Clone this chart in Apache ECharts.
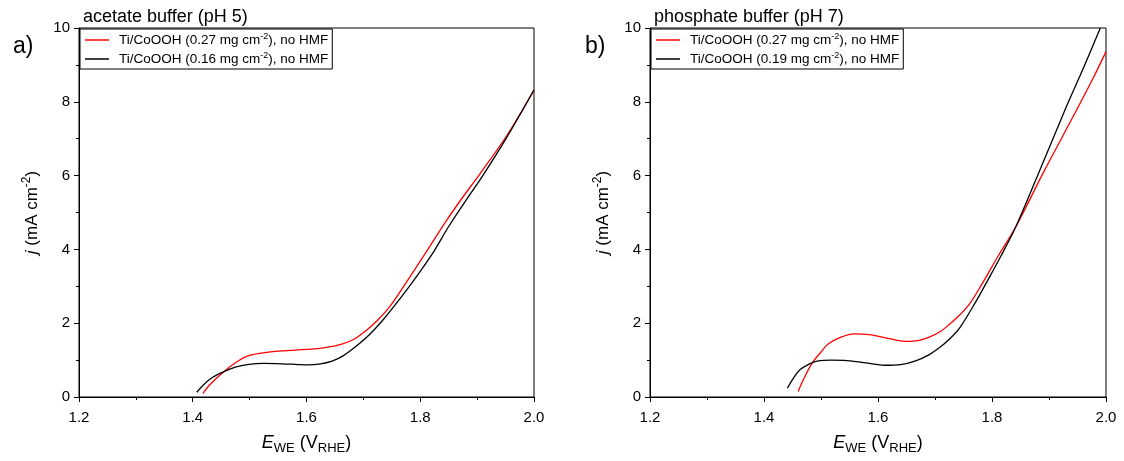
<!DOCTYPE html>
<html>
<head>
<meta charset="utf-8">
<script src="https://cdn.jsdelivr.net/npm/echarts@6/dist/echarts.min.js"></script>
<style>html,body{margin:0;padding:0;background:#fff}#c{width:1124px;height:461px}</style>
</head>
<body>
<div id="c"></div>
<script>
// ---- data ----
const xTicks = [1.2, 1.4, 1.6, 1.8, 2.0];
const yTicks = [0, 2, 4, 6, 8, 10];

const panelTitles = ['acetate buffer (pH 5)', 'phosphate buffer (pH 7)'];
const panelLetters = ['a)', 'b)'];

const nameRed = 'Ti/CoOOH (0.27 mg cm-2), no HMF';
const nameBlackA = 'Ti/CoOOH (0.16 mg cm-2), no HMF';
const nameBlackB = 'Ti/CoOOH (0.19 mg cm-2), no HMF';

// panel a, red
const aRedE = [1.418, 1.43, 1.455, 1.475, 1.496, 1.52, 1.556, 1.6, 1.63, 1.662, 1.685, 1.704, 1.725, 1.746, 1.779, 1.81, 1.846, 1.875, 1.905, 1.952, 2.0];
const aRedJ = [0.10, 0.33, 0.69, 0.93, 1.11, 1.19, 1.25, 1.29, 1.33, 1.43, 1.58, 1.79, 2.08, 2.44, 3.19, 3.92, 4.78, 5.42, 6.05, 7.08, 8.32];
// panel a, black
const aBlkE = [1.407, 1.43, 1.455, 1.475, 1.496, 1.525, 1.556, 1.585, 1.603, 1.625, 1.645, 1.665, 1.686, 1.71, 1.734, 1.76, 1.788, 1.82, 1.85, 1.88, 1.91, 1.95, 2.0];
const aBlkJ = [0.13, 0.48, 0.69, 0.81, 0.88, 0.91, 0.90, 0.88, 0.87, 0.90, 0.97, 1.12, 1.36, 1.68, 2.08, 2.58, 3.15, 3.85, 4.62, 5.32, 6.0, 6.98, 8.32];
// panel b, red
const bRedE = [1.460, 1.47, 1.485, 1.50, 1.512, 1.535, 1.559, 1.585, 1.607, 1.63, 1.648, 1.67, 1.69, 1.71, 1.726, 1.745, 1.761, 1.782, 1.81, 1.842, 1.89, 1.943, 1.978, 2.0];
const bRedJ = [0.15, 0.50, 0.93, 1.22, 1.43, 1.62, 1.71, 1.69, 1.62, 1.55, 1.51, 1.53, 1.62, 1.78, 1.98, 2.25, 2.53, 3.05, 3.80, 4.62, 6.08, 7.62, 8.66, 9.36];
// panel b, black
const bBlkE = [1.441, 1.452, 1.464, 1.48, 1.495, 1.518, 1.54, 1.566, 1.59, 1.613, 1.64, 1.666, 1.69, 1.708, 1.726, 1.744, 1.773, 1.791, 1.815, 1.842, 1.88, 1.93, 1.96, 1.99];
const bBlkJ = [0.24, 0.52, 0.75, 0.90, 0.98, 1.0, 0.99, 0.95, 0.90, 0.86, 0.88, 0.98, 1.15, 1.34, 1.58, 1.89, 2.62, 3.12, 3.80, 4.62, 6.0, 7.85, 8.9, 10.0];

const zip = (xs, ys) => xs.map((x, i) => [x, ys[i]]);

const FONT = 'Arial, "Liberation Sans", sans-serif';

const grids = [
  {left: 79, right: 590, top: 28, bottom: 64},
  {left: 650, right: 18, top: 28, bottom: 64}
];

function xAxis(i) {
  return {
    type: 'value', gridIndex: i, min: xTicks[0], max: xTicks[xTicks.length - 1], interval: 0.2,
    axisLine: {lineStyle: {color: '#000', width: 1}},
    axisTick: {show: true, inside: false, length: 5, lineStyle: {color: '#000'}},
    minorTick: {show: true, splitNumber: 2, length: 3, lineStyle: {color: '#000'}},
    splitLine: {show: false},
    axisLabel: {color: '#000', fontSize: 15, fontFamily: FONT, margin: 13, formatter: v => v.toFixed(1)},
    name: '{i|E}{sub|WE} (V{sub|RHE})',
    nameLocation: 'middle', nameGap: 34,
    nameTextStyle: {
      color: '#000', fontSize: 18, fontFamily: FONT,
      rich: {
        i: {fontSize: 18, fontStyle: 'italic', fontFamily: FONT, color: '#000', lineHeight: 24},
        sub: {fontSize: 13, fontFamily: FONT, color: '#000', lineHeight: 12, verticalAlign: 'bottom'}
      }
    }
  };
}
function yAxis(i) {
  return {
    type: 'value', gridIndex: i, min: yTicks[0], max: yTicks[yTicks.length - 1], interval: 2,
    axisLine: {show: true, lineStyle: {color: '#000', width: 1}},
    axisTick: {show: true, inside: false, length: 5, lineStyle: {color: '#000'}},
    minorTick: {show: true, splitNumber: 2, length: 3, lineStyle: {color: '#000'}},
    splitLine: {show: false},
    axisLabel: {color: '#000', fontSize: 15, fontFamily: FONT, margin: 9},
    name: '{i|j} (mA cm{sup|-2})',
    nameLocation: 'middle', nameGap: 36, nameRotate: 90,
    nameTextStyle: {
      color: '#000', fontSize: 17, fontFamily: FONT,
      rich: {
        i: {fontSize: 17, fontStyle: 'italic', fontFamily: FONT, color: '#000', lineHeight: 22},
        sup: {fontSize: 12, fontFamily: FONT, color: '#000', lineHeight: 10, verticalAlign: 'top'}
      }
    }
  };
}
function series(name, xs, ys, color, i) {
  return {
    type: 'line', name: name, xAxisIndex: i, yAxisIndex: i,
    data: zip(xs, ys), smooth: 0.35, symbol: 'none', showSymbol: false,
    lineStyle: {color: color, width: 1.3}, itemStyle: {color: color},
    clip: true, animation: false
  };
}
function legend(i, names) {
  return {
    data: names, orient: 'vertical',
    left: grids[i].left + 1, top: 29,
    backgroundColor: '#fff', borderColor: '#000', borderWidth: 1,
    padding: [3, 4, 2, 5], itemGap: 3, itemWidth: 24, itemHeight: 1.5,
    icon: 'rect',
    formatter: n => n.replace('cm-2', 'cm{sup|-2}'),
    textStyle: {
      color: '#000', fontSize: 13.5, fontFamily: FONT, padding: [0, 0, 0, 5], lineHeight: 16,
      rich: {sup: {fontSize: 9, fontFamily: FONT, color: '#000', verticalAlign: 'top', lineHeight: 9}}
    },
    selectedMode: false
  };
}

const chart = echarts.init(document.getElementById('c'), null, {renderer: 'canvas'});
chart.setOption({
  animation: false,
  backgroundColor: '#fff',
  title: [
    {text: panelTitles[0], left: 78, top: 3, textStyle: {fontSize: 18, fontWeight: 'normal', color: '#000', fontFamily: FONT}},
    {text: panelTitles[1], left: 649, top: 3, textStyle: {fontSize: 18, fontWeight: 'normal', color: '#000', fontFamily: FONT}},
    {text: panelLetters[0], left: 8, top: 30, textStyle: {fontSize: 23, fontWeight: 'normal', color: '#000', fontFamily: FONT}},
    {text: panelLetters[1], left: 580, top: 30, textStyle: {fontSize: 23, fontWeight: 'normal', color: '#000', fontFamily: FONT}}
  ],
  grid: grids.map(g => Object.assign({show: true, borderColor: '#000', borderWidth: 1, backgroundColor: 'transparent'}, g)),
  xAxis: [xAxis(0), xAxis(1)],
  yAxis: [yAxis(0), yAxis(1)],
  legend: [legend(0, [nameRed, nameBlackA]), legend(1, [nameRed, nameBlackB])],
  series: [
    series(nameRed, aRedE, aRedJ, '#ff0000', 0),
    series(nameBlackA, aBlkE, aBlkJ, '#000000', 0),
    series(nameRed, bRedE, bRedJ, '#ff0000', 1),
    series(nameBlackB, bBlkE, bBlkJ, '#000000', 1)
  ]
});
</script>
</body>
</html>
